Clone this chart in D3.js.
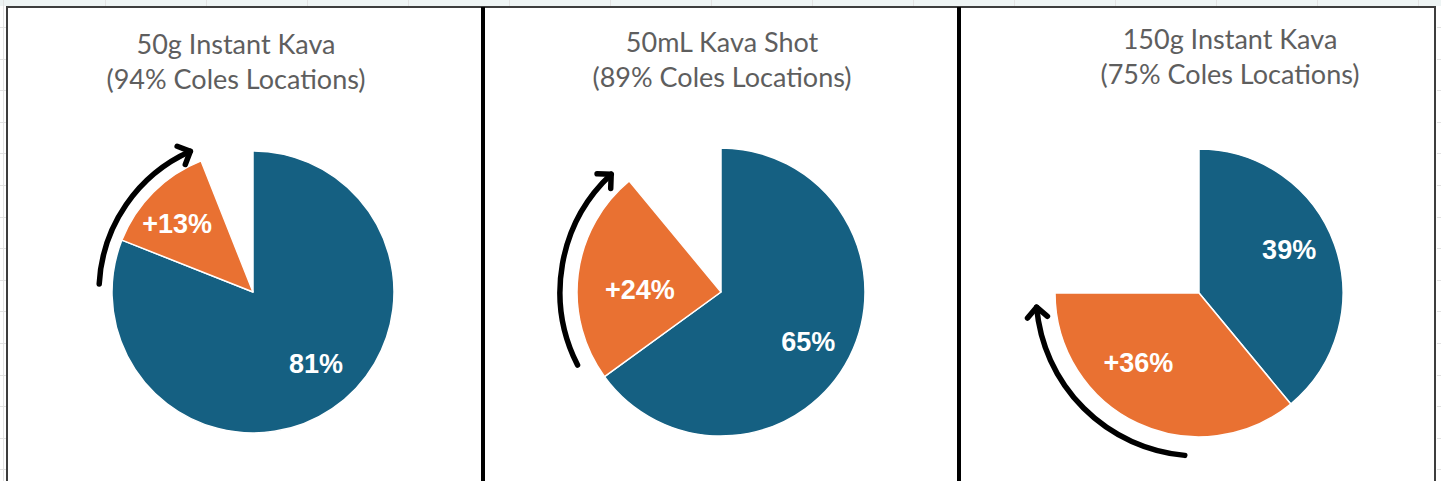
<!DOCTYPE html>
<html>
<head>
<meta charset="utf-8">
<script src="https://cdn.jsdelivr.net/npm/d3@7"></script>
<style>
  html, body { margin: 0; padding: 0; background: #ffffff; }
  svg { display: block; }
</style>
</head>
<body>
<svg id="chart" width="1441" height="481"></svg>
<script>
// ---- data ----
const products   = ["50g Instant Kava", "50mL Kava Shot", "150g Instant Kava"];
const coverage   = [94, 89, 75];          // % of Coles locations (title)
const baseShare  = [81, 65, 39];          // existing share (blue)
const growthShare = [13, 24, 36];         // growth (orange)
const sliceNames = ["base", "growth", "gap"];

// ---- layout (not data) ----
const W = 1441, H = 481;
const panelEdges = [7, 483, 959, 1435];
const pieCenters = [[253, 292], [721, 292], [1199, 293]];
const pieRadii = [141, 144, 144];
const titleX = [236, 722, 1230];
const titleY = [45, 43, 40];
const arrowRadius = [154, 161, 163];
const arrowSpan = [[273, 336], [243, 317], [185, 265]]; // degrees clockwise from 12 o'clock
const labelRadiusFactor = 0.68;
const labelNudge = [[[9, -8], [-8, -1]], [[0, 5], [16, 10]], [[-2, -11], [-19, -19]]];

const colors = { base: "#156082", growth: "#E97132", gap: "none" };
const titleFont = "Lato, 'Liberation Sans', sans-serif";
const labelFont = "'Liberation Sans', Arial, sans-serif";

const svg = d3.select("#chart");

// Excel-like surroundings
svg.append("rect").attr("x", 0).attr("y", 0).attr("width", W).attr("height", 6).attr("fill", "#eef4f4");
const gridG = svg.append("g").attr("stroke", "#e2e2e2").attr("stroke-width", 1);
d3.range(27, H, 31.6).forEach(y => {
  gridG.append("line").attr("x1", 0).attr("x2", 6).attr("y1", Math.round(y) + 0.5).attr("y2", Math.round(y) + 0.5);
  gridG.append("line").attr("x1", 1437).attr("x2", W).attr("y1", Math.round(y) + 0.5).attr("y2", Math.round(y) + 0.5);
});
gridG.append("line").attr("x1", 3.5).attr("x2", 3.5).attr("y1", 0).attr("y2", H);
d3.range(105, 1435, 101).forEach(x => {
  gridG.append("line").attr("x1", x + 0.5).attr("x2", x + 0.5).attr("y1", 0).attr("y2", 6);
});

// frame
svg.append("path")
  .attr("d", `M${panelEdges[0]},${H} L${panelEdges[0]},7 L${panelEdges[3]},7 L${panelEdges[3]},${H}`)
  .attr("fill", "none").attr("stroke", "#3d3d3d").attr("stroke-width", 2);
[panelEdges[1], panelEdges[2]].forEach(x => {
  svg.append("line").attr("x1", x).attr("x2", x).attr("y1", 7).attr("y2", H)
    .attr("stroke", "#000").attr("stroke-width", 4);
});

// arrow marker
const defs = svg.append("defs");
defs.append("marker")
  .attr("id", "chev")
  .attr("viewBox", "-16 -14 20 28")
  .attr("refX", 0).attr("refY", 0)
  .attr("markerWidth", 20).attr("markerHeight", 28)
  .attr("markerUnits", "userSpaceOnUse")
  .attr("orient", "auto")
  .append("path")
  .attr("d", "M-10,-10 L0,0 L-10,10")
  .attr("fill", "none").attr("stroke", "#000").attr("stroke-width", 5.5)
  .attr("stroke-linecap", "round").attr("stroke-linejoin", "round");

const pie = d3.pie().sort(null).value(d => d.value);
const toRad = d => d * Math.PI / 180;

products.forEach((name, i) => {
  const g = svg.append("g");
  const [cx, cy] = pieCenters[i];
  const r = pieRadii[i];

  // title
  const t = g.append("text")
    .attr("x", titleX[i]).attr("y", titleY[i])
    .attr("text-anchor", "middle")
    .attr("font-family", titleFont).attr("font-size", 27)
    .attr("fill", "#5e5e5e");
  t.append("tspan").attr("x", titleX[i]).attr("dy", "0.35em").text(name);
  t.append("tspan").attr("x", titleX[i]).attr("dy", "1.27em").text(`(${coverage[i]}% Coles Locations)`);

  const values = [baseShare[i], growthShare[i], 100 - baseShare[i] - growthShare[i]];
  const slices = pie(values.map((v, k) => ({ key: sliceNames[k], value: v, idx: k })));
  const arc = d3.arc().innerRadius(0).outerRadius(r);
  const labelArc = d3.arc().innerRadius(r * labelRadiusFactor).outerRadius(r * labelRadiusFactor);

  const pg = g.append("g").attr("transform", `translate(${cx},${cy})`);
  pg.selectAll("path.slice")
    .data(slices.filter(s => s.data.key !== "gap"))
    .join("path")
    .attr("class", "slice")
    .attr("d", arc)
    .attr("fill", d => colors[d.data.key])
    .attr("stroke", "#ffffff").attr("stroke-width", 1.5).attr("stroke-linejoin", "round");

  pg.selectAll("text.lbl")
    .data(slices.filter(s => s.data.key !== "gap"))
    .join("text")
    .attr("class", "lbl")
    .attr("transform", d => {
      const [x, y] = labelArc.centroid(d);
      const [nx, ny] = labelNudge[i][d.data.idx];
      return `translate(${x + nx},${y + ny})`;
    })
    .attr("text-anchor", "middle")
    .attr("dy", "0.36em")
    .attr("font-family", labelFont).attr("font-weight", "bold").attr("font-size", 27)
    .attr("fill", "#ffffff")
    .text(d => (d.data.key === "growth" ? "+" : "") + d.data.value + "%");

  // curved arrow
  const [a0, a1] = arrowSpan[i];
  const p = d3.path();
  p.arc(cx, cy, arrowRadius[i], toRad(a0 - 90), toRad(a1 - 90), false);
  g.append("path")
    .attr("d", p.toString())
    .attr("fill", "none").attr("stroke", "#000").attr("stroke-width", 5.5)
    .attr("stroke-linecap", "round")
    .attr("marker-end", "url(#chev)");
});
</script>
</body>
</html>
